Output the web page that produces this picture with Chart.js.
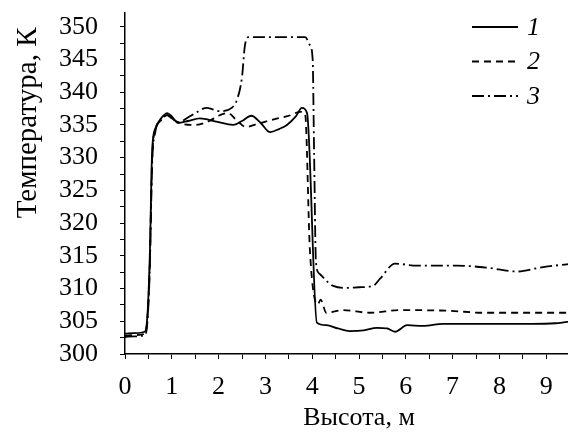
<!DOCTYPE html>
<html>
<head>
<meta charset="utf-8">
<script src="https://cdn.jsdelivr.net/npm/chart.js@4.4.1/dist/chart.umd.min.js"></script>
<style>
  html, body { margin: 0; padding: 0; background: #fff; }
  #wrap { width: 568px; height: 439px; overflow: hidden; position: relative; }
</style>
</head>
<body>
<div id="wrap"><canvas id="tempChart" width="603" height="439"></canvas></div>
<script>
// heights (m) and temperatures (K)
var heights1 = [0, 0.2, 0.42, 0.48, 0.53, 0.58, 0.65, 0.75, 0.9, 1.0, 1.13, 1.35, 1.6, 1.95, 2.31, 2.5, 2.7, 2.9, 3.1, 3.3, 3.46, 3.65, 3.78, 3.89, 4.1, 4.3, 4.55, 4.8, 5.1, 5.38, 5.6, 5.77, 6.03, 6.37, 6.8, 7.5, 8.2, 8.7, 9.2, 9.45, 10];
var temps1   = [303.1, 303.2, 303.4, 306, 315, 331, 334.5, 335.8, 336.8, 336.3, 335.3, 335.6, 336.0, 335.5, 335.0, 335.6, 336.4, 335.3, 333.9, 334.4, 335.0, 336.3, 337.6, 336.8, 304.8, 304.4, 303.9, 303.5, 303.6, 304.0, 303.9, 303.4, 304.4, 304.3, 304.6, 304.6, 304.6, 304.6, 304.7, 304.9, 305.2];

var heights2 = [0, 0.2, 0.42, 0.48, 0.53, 0.58, 0.65, 0.75, 0.9, 1.0, 1.2, 1.5, 1.8, 2.0, 2.2, 2.4, 2.58, 2.85, 3.2, 3.5, 3.75, 3.85, 3.95, 4.12, 4.18, 4.3, 4.66, 5.23, 5.88, 6.94, 7.65, 8.5, 9.45, 10];
var temps2   = [302.8, 302.9, 303.1, 305.5, 314, 330, 334.2, 335.6, 336.5, 336.0, 335.2, 335.0, 335.6, 336.4, 336.8, 335.6, 334.7, 335.2, 335.9, 336.4, 337.0, 336.6, 316, 307.6, 308.3, 306.3, 306.7, 306.3, 306.7, 306.6, 306.3, 306.3, 306.3, 306.3];

var heights3 = [0, 0.2, 0.42, 0.48, 0.53, 0.58, 0.65, 0.75, 0.9, 1.0, 1.13, 1.43, 1.75, 2.03, 2.28, 2.39, 2.5, 2.56, 2.63, 3.0, 3.5, 3.85, 3.95, 4.01, 4.04, 4.08, 4.15, 4.3, 4.45, 4.74, 5.0, 5.3, 5.45, 5.77, 6.24, 7.09, 7.73, 8.38, 8.87, 9.44, 10];
var temps3   = [302.6, 302.7, 302.9, 305, 313, 329, 334, 335.5, 336.5, 336.0, 335.4, 336.5, 337.6, 337.1, 337.6, 338.8, 342.3, 347, 348.4, 348.4, 348.4, 348.4, 347.2, 345, 331, 314, 312.3, 311.2, 310.4, 310.1, 310.2, 310.4, 311.5, 313.8, 313.5, 313.5, 313.2, 312.6, 313.2, 313.7, 314];

var seriesNames = ["1", "2", "3"];

function points(xs, ys) {
    return xs.map(function (x, i) { return {x: x, y: ys[i]}; });
}

var serif = "'Liberation Serif', 'Times New Roman', serif";

// legend drawn inside the plot, top right
var insideLegend = {
    id: 'insideLegend',
    afterDraw: function (chart) {
        var ctx = chart.ctx, area = chart.chartArea;
        var x0 = area.left + 347, x1 = x0 + 46;
        chart.data.datasets.forEach(function (ds, i) {
            var y = area.top + 14 + i * 34.5;
            ctx.save();
            ctx.strokeStyle = '#000';
            ctx.lineWidth = 1.8;
            ctx.setLineDash(ds.borderDash || []);
            ctx.beginPath();
            ctx.moveTo(x0, y);
            ctx.lineTo(x1, y);
            ctx.stroke();
            ctx.setLineDash([]);
            ctx.fillStyle = '#000';
            ctx.font = "italic 26px " + serif;
            ctx.textBaseline = 'middle';
            ctx.fillText(ds.label, x1 + 9, y + 1);
            ctx.restore();
        });
    }
};

var ctx = document.getElementById("tempChart").getContext('2d');
var tempChart = new Chart(ctx, {
    type: 'line',
    data: {
        datasets: [
            {
                label: seriesNames[0],
                data: points(heights1, temps1),
                borderColor: "#000",
                borderWidth: 1.8,
                pointRadius: 0,
                cubicInterpolationMode: 'monotone'
            },
            {
                label: seriesNames[1],
                data: points(heights2, temps2),
                borderColor: "#000",
                borderWidth: 1.8,
                borderDash: [7, 5],
                pointRadius: 0,
                cubicInterpolationMode: 'monotone'
            },
            {
                label: seriesNames[2],
                data: points(heights3, temps3),
                borderColor: "#000",
                borderWidth: 1.8,
                borderDash: [12, 4, 2, 4],
                pointRadius: 0,
                cubicInterpolationMode: 'monotone'
            }
        ]
    },
    options: {
        responsive: false,
        animation: false,
        layout: { padding: { left: 10.6, right: 10, top: 13, bottom: 5.4 } },
        plugins: {
            legend: { display: false },
            tooltip: { enabled: false }
        },
        scales: {
            x: {
                type: 'linear',
                min: 0,
                max: 10,
                afterFit: function (s) {
                    s.height = 79.6;
                    s.paddingLeft = 0; s.paddingRight = 0;
                },
                border: { color: '#000', width: 1.5 },
                grid: { drawOnChartArea: false, color: '#000', tickLength: 5 },
                ticks: {
                    stepSize: 0.5,
                    autoSkip: false,
                    color: '#000',
                    padding: 13,
                    maxRotation: 0,
                    font: { family: serif, size: 26 },
                    callback: function (v) { return v % 1 === 0 ? String(v) : ''; }
                },
                title: {
                    display: true,
                    text: 'Высота, м',
                    color: '#000',
                    padding: { top: 0, bottom: 0 },
                    font: { family: serif, size: 26 }
                }
            },
            y: {
                min: 300,
                max: 352.1,
                afterFit: function (s) {
                    s.width = 114.4;
                    s.paddingTop = 0; s.paddingBottom = 0;
                },
                border: { color: '#000', width: 1.5 },
                grid: { drawOnChartArea: false, color: '#000', tickLength: 5 },
                ticks: {
                    stepSize: 2.5,
                    includeBounds: false,
                    autoSkip: false,
                    color: '#000',
                    padding: 22,
                    font: { family: serif, size: 26 },
                    callback: function (v) { return v % 5 === 0 ? String(v) : ''; }
                },
                title: {
                    display: true,
                    text: 'Температура, К  ',
                    align: 'end',
                    color: '#000',
                    padding: { top: 0, bottom: 0 },
                    font: { family: serif, size: 29 }
                }
            }
        }
    },
    plugins: [insideLegend]
});
</script>
</body>
</html>
